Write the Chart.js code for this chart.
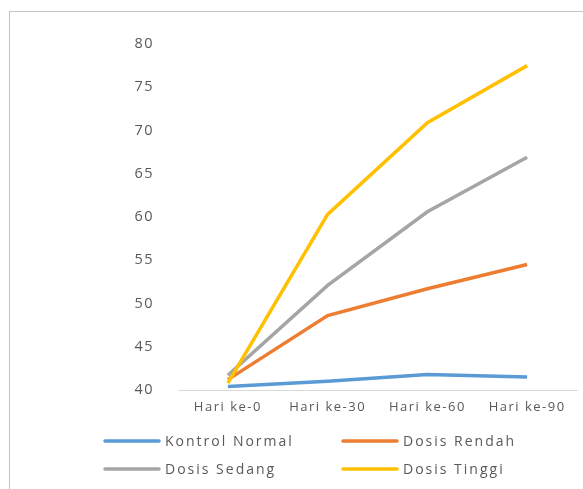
<!DOCTYPE html>
<html>
<head>
<meta charset="utf-8">
<script src="https://cdn.jsdelivr.net/npm/chart.js@4/dist/chart.umd.min.js"></script>
<style>
    html, body { margin: 0; padding: 0; background: #fff; overflow: hidden; }
    #wrap { position: relative; width: 583px; height: 489px; }
    #frame {
        position: absolute; left: 9px; top: 11px; width: 700px; height: 600px;
        border-left: 1px solid #c4c4c4; border-top: 1px solid #c4c4c4;
    }
    #chart { position: absolute; left: 0; top: 0; }
</style>
</head>
<body>
<div id="wrap">
    <div id="frame"></div>
    <canvas id="chart" width="583" height="489"></canvas>
</div>
<script>
// --- data ---
const categories = ["Hari ke-0", "Hari ke-30", "Hari ke-60", "Hari ke-90"];
const kontrolNormal = [40.4, 41.0, 41.8, 41.5];
const dosisRendah = [41.2, 48.6, 51.7, 54.5];
const dosisSedang = [41.7, 52.1, 60.6, 66.9];
const dosisTinggi = [40.8, 60.3, 70.9, 77.5];
const seriesNames = ["Kontrol Normal", "Dosis Rendah", "Dosis Sedang", "Dosis Tinggi"];
const yTicks = [40, 45, 50, 55, 60, 65, 70, 75, 80];

const colors = ['#5b9bd5', '#ed7d31', '#a5a5a5', '#ffc000'];
const textColor = '#595959';
const fontFamily = '"Open Sans", sans-serif';
const spacing = '1.5px';

// excel-like spaced text
const spacedText = {
    id: 'spacedText',
    beforeUpdate(chart) { chart.ctx.letterSpacing = spacing; },
    beforeDraw(chart) { chart.ctx.letterSpacing = spacing; }
};

// two-column legend under the axis
const gridLegend = {
    id: 'gridLegend',
    afterDraw(chart) {
        const ctx = chart.ctx;
        const cols = [105, 343];
        const rows = [441, 469];
        ctx.save();
        ctx.letterSpacing = '2px';
        ctx.font = '14px ' + fontFamily;
        ctx.textBaseline = 'middle';
        ctx.textAlign = 'left';
        chart.data.datasets.forEach((ds, i) => {
            const x = cols[i % 2];
            const y = rows[Math.floor(i / 2)];
            ctx.strokeStyle = ds.borderColor;
            ctx.lineWidth = 3.5;
            ctx.lineCap = 'round';
            ctx.beginPath();
            ctx.moveTo(x, y);
            ctx.lineTo(x + 54, y);
            ctx.stroke();
            ctx.fillStyle = textColor;
            ctx.fillText(ds.label, x + 60, y + 1);
        });
        ctx.restore();
    }
};

const allSeries = [kontrolNormal, dosisRendah, dosisSedang, dosisTinggi];

new Chart(document.getElementById('chart'), {
    type: 'line',
    data: {
        labels: categories,
        datasets: allSeries.map((values, i) => ({
            label: seriesNames[i],
            data: values,
            borderColor: colors[i],
            backgroundColor: colors[i],
            borderWidth: 3.5,
            pointRadius: 0,
            tension: 0,
            fill: false,
            order: 3 - i
        }))
    },
    options: {
        responsive: false,
        animation: false,
        layout: { padding: { left: 0, top: 44, right: 6, bottom: 0 } },
        plugins: {
            legend: { display: false },
            tooltip: { enabled: false }
        },
        scales: {
            x: {
                offset: true,
                grid: { display: false, drawTicks: false },
                border: { display: true, color: '#d9d9d9', width: 1 },
                ticks: {
                    color: textColor,
                    font: { family: fontFamily, size: 13 },
                    padding: 9,
                    maxRotation: 0
                },
                afterFit(scale) { scale.height = 99; }
            },
            y: {
                min: 40,
                max: 80,
                afterBuildTicks(scale) { scale.ticks = yTicks.map(v => ({ value: v })); },
                grid: { display: false, drawTicks: false },
                border: { display: false },
                ticks: {
                    color: textColor,
                    font: { family: fontFamily, size: 14.5 },
                    padding: 24
                },
                afterFit(scale) { scale.width = 178; }
            }
        }
    },
    plugins: [spacedText, gridLegend]
});
</script>
</body>
</html>
